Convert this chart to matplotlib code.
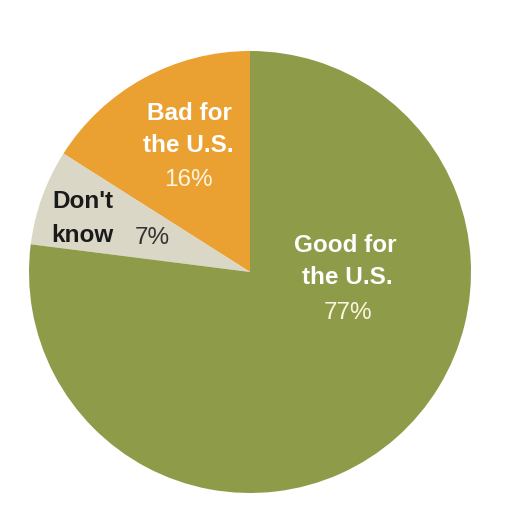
import matplotlib.pyplot as plt

labels = [["Bad for", "the U.S."], ["Don't", "know"], ["Good for", "the U.S."]]
shares = [16, 7, 77]
colors = ["#eba132", "#dbd7c6", "#8e9b48"]

plt.rcParams['font.family'] = ['Liberation Sans', 'DejaVu Sans']

fig = plt.figure(figsize=(5.12, 5.12), dpi=100)
ax = fig.add_axes([0, 0, 1, 1])
ax.pie(shares, colors=colors, startangle=90, counterclock=True,
       center=(250, 240), radius=221, wedgeprops=dict(linewidth=0))
ax.set_xlim(0, 512)
ax.set_ylim(0, 512)
ax.set_aspect('equal')
ax.axis('off')

def line(x, y, s, bold=True, color='white', ha='center'):
    ax.text(x, 512 - y, s, ha=ha, va='center', fontsize=17.5,
            fontweight='bold' if bold else 'normal', color=color)

# Bad for the U.S.
line(189, 114, labels[0][0])
line(188, 146, labels[0][1])
line(188, 180, f"{shares[0]}%", bold=False, color='#fbf4de')
# Don't know
line(52, 201, labels[1][0], color='#1a1a1a', ha='left')
line(51, 235, labels[1][1], color='#1a1a1a', ha='left')
line(135, 238, f"{shares[1]}%", bold=False, color='#333333', ha='left')
# Good for the U.S.
line(345, 245, labels[2][0])
line(347, 278, labels[2][1])
line(348, 313, f"{shares[2]}%", bold=False, color='#fbf4de')

fig.savefig("out.png", dpi=100)
